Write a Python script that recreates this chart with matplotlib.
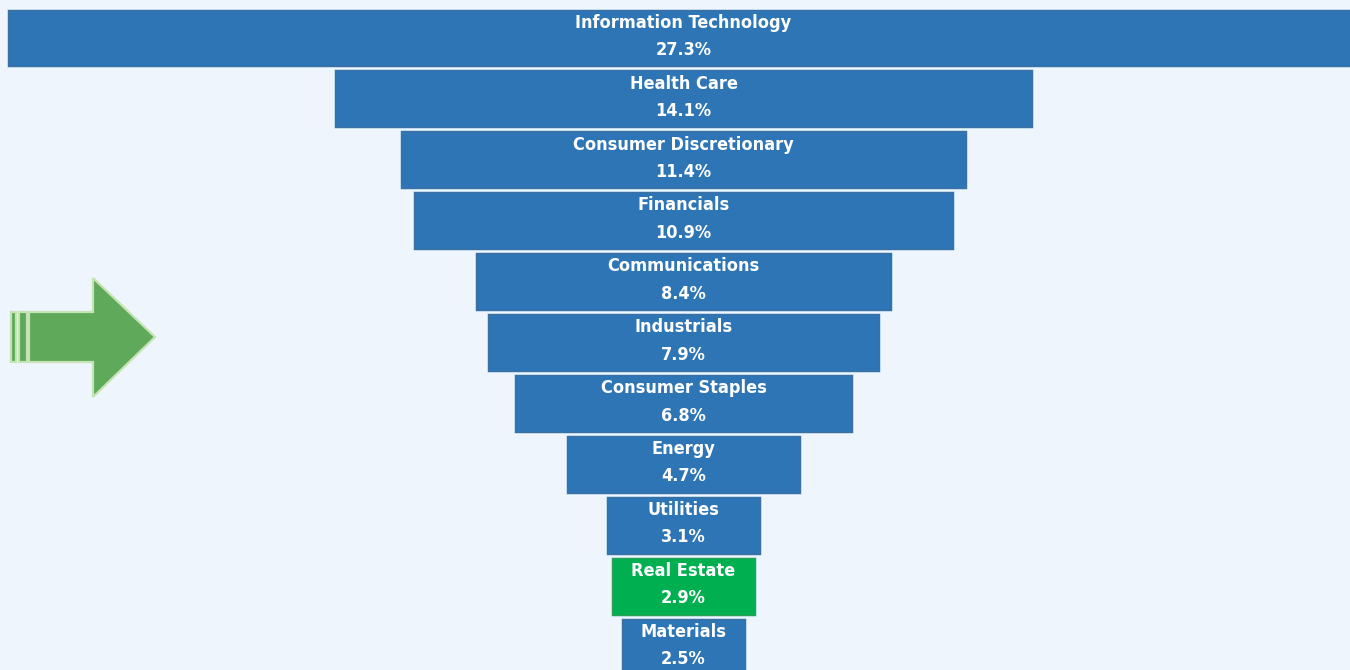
import matplotlib
matplotlib.use("Agg")
import matplotlib.pyplot as plt
from matplotlib.patches import Polygon, Rectangle
import matplotlib.patheffects as pe
from matplotlib import font_manager as fm

sectors = ["Information Technology", "Health Care", "Consumer Discretionary", "Financials",
           "Communications", "Industrials", "Consumer Staples", "Energy", "Utilities",
           "Real Estate", "Materials"]
weights = [27.3, 14.1, 11.4, 10.9, 8.4, 7.9, 6.8, 4.7, 3.1, 2.9, 2.5]
highlight = "Real Estate"

BLUE = "#2E75B6"
GREEN = "#00B050"
BG = "#EEF5FD"

# look for a condensed / narrow bold font
cand = []
for f in fm.fontManager.ttflist:
    fn = f.fname.lower()
    if ("condensed" in fn or "narrow" in fn) and ("bold" in fn) and "oblique" not in fn and "italic" not in fn:
        cand.append(f.fname)
cand.sort(key=lambda p: (0 if "liberation" in p.lower() else 1 if "dejavu" in p.lower() else 2, p))
if cand:
    fprop = fm.FontProperties(fname=cand[0], size=13)
else:
    fprop = fm.FontProperties(family="DejaVu Sans", weight="bold", size=12)

fig = plt.figure(figsize=(13.5, 6.7), dpi=100, facecolor=BG)
ax = fig.add_axes([0, 0, 1, 1])
ax.set_facecolor(BG)

ypos = list(range(len(sectors)))
colors = [GREEN if s == highlight else BLUE for s in sectors]
lefts = [-w / 2 for w in weights]
bars = ax.barh(ypos, weights, left=lefts, height=0.935, color=colors,
               edgecolor="#3F6F9F", linewidth=0.8)
for b, c in zip(bars, colors):
    if c == GREEN:
        b.set_edgecolor("#2E9E5A")
    b.set_path_effects([pe.withStroke(linewidth=2, foreground="#CBE7F6"), pe.Normal()])

for y, s, w in zip(ypos, sectors, weights):
    ax.text(0, y - 0.25, s, ha="center", va="center", color="white", fontproperties=fprop)
    ax.text(0, y + 0.2, f"{w:.1f}%", ha="center", va="center", color="white", fontproperties=fprop)

ax.set_xlim(-683.5 / 49.5, (1350 - 683.5) / 49.5)
ax.set_ylim((670 - 38) / 60.9, -38 / 60.9)
ax.axis("off")

# arrow decoration (figure pixel overlay)
ov = fig.add_axes([0, 0, 1, 1], facecolor="none")
ov.set_xlim(0, 1350)
ov.set_ylim(670, 0)
ov.axis("off")
AF = "#5EA95A"
AE = "#C6E3B5"
arrow = Polygon([(29, 312), (93, 312), (93, 278), (155, 337), (93, 397), (93, 362), (29, 362)],
                closed=True, facecolor=AF, edgecolor=AE, linewidth=1.6)
ov.add_patch(arrow)
ov.add_patch(Rectangle((11, 312), 5, 50, facecolor=AF, edgecolor=AE, linewidth=1.6))
ov.add_patch(Rectangle((19, 312), 8, 50, facecolor=AF, edgecolor=AE, linewidth=1.6))

fig.savefig("out.png", dpi=100, facecolor=BG)
